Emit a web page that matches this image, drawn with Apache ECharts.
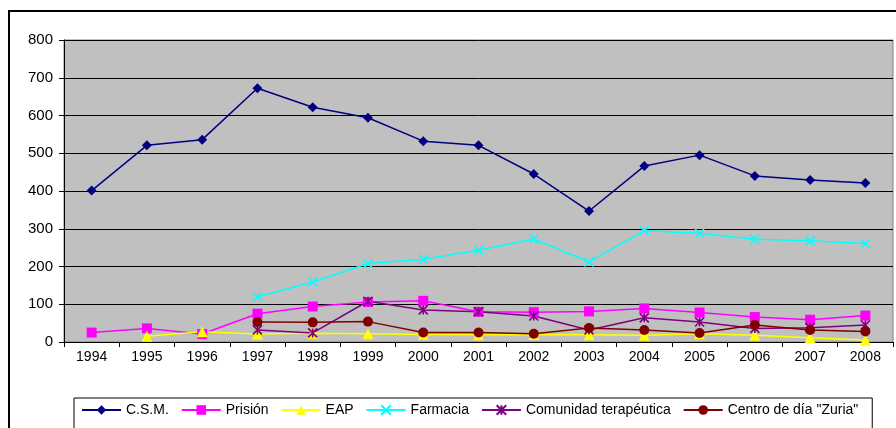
<!DOCTYPE html>
<html>
<head>
<meta charset="utf-8">
<script src="https://cdn.jsdelivr.net/npm/echarts@6/dist/echarts.min.js"></script>
<style>html,body{margin:0;padding:0;background:#fff;}#chart{width:896px;height:428px;}</style>
</head>
<body>
<div id="chart"></div>
<script>
const years = ['1994','1995','1996','1997','1998','1999','2000','2001','2002','2003','2004','2005','2006','2007','2008'];
const csm = [401, 521, 536, 672, 622, 594, 532, 521, 445, 347, 466, 495, 440, 429, 421];
const prision = [25, 36, 21, 75, 94, 106, 109, 80, 79, 81, 89, 78, 66, 59, 70];
const eap = [null, 15, 27, 21, 23, 22, 20, 19, 20, 19, 18, 22, 18, 11, 5];
const farmacia = [null, null, null, 120, 159, 208, 219, 243, 273, 212, 295, 288, 272, 268, 261];
const comunidad = [null, null, null, 32, 24, 108, 85, 80, 69, 32, 64, 53, 36, 38, 45];
const centro = [null, null, null, 53, 52, 54, 25, 25, 22, 37, 32, 24, 45, 32, 28];
const yTicks = [0, 100, 200, 300, 400, 500, 600, 700, 800];

const FONT = 'Liberation Sans, Arial, sans-serif';
const crossPath = 'path://M0,0L10,10M10,0L0,10';
const starPath = 'path://M0,0L10,10M10,0L0,10M5,0L5,10';

function mk(name, data, color, symbol, size, stroke) {
  const s = {
    name: name, type: 'line', data: data, connectNulls: false,
    symbol: symbol, symbolSize: size, showSymbol: true,
    lineStyle: { color: color, width: 1.5 },
    itemStyle: { color: color },
    emphasis: { disabled: true }
  };
  if (stroke) {
    s.itemStyle = { color: 'rgba(0,0,0,0)', borderColor: color, borderWidth: 1.6 };
  }
  return s;
}

const chart = echarts.init(document.getElementById('chart'), null, { renderer: 'canvas' });
chart.setOption({
  animation: false,
  backgroundColor: '#ffffff',
  textStyle: { fontFamily: FONT },
  graphic: [{
    type: 'rect', z: -10, silent: true,
    shape: { x: 9, y: 11, width: 900, height: 430 },
    style: { fill: 'none', stroke: '#000', lineWidth: 2 }
  }],
  grid: {
    left: 64, right: 3, top: 40, bottom: 86,
    show: true, backgroundColor: '#C0C0C0', borderColor: '#808080', borderWidth: 1
  },
  legend: {
    left: 74, top: 398, width: 800,
    padding: [5, 14, 30, 7],
    borderColor: '#000', borderWidth: 1,
    itemWidth: 39, itemHeight: 12, itemGap: 12,
    textStyle: { fontFamily: FONT, fontSize: 14, color: '#000' },
    data: ['C.S.M.', 'Prisión', 'EAP', 'Farmacia', 'Comunidad terapéutica', 'Centro de día "Zuria"']
  },
  xAxis: {
    type: 'category', data: years, boundaryGap: true,
    axisLine: { lineStyle: { color: '#000', width: 1 } },
    axisTick: { show: true, length: 5, inside: false, lineStyle: { color: '#000' } },
    axisLabel: { color: '#000', fontSize: 14, fontFamily: FONT, margin: 8 },
    splitLine: { show: false }
  },
  yAxis: {
    type: 'value', min: yTicks[0], max: yTicks[yTicks.length - 1], interval: 100,
    axisLine: { show: true, lineStyle: { color: '#000', width: 1 } },
    axisTick: { show: true, length: 5, inside: false, lineStyle: { color: '#000' } },
    axisLabel: { color: '#000', fontSize: 15, fontFamily: FONT, margin: 11 },
    splitLine: { show: true, lineStyle: { color: '#000', width: 1 } }
  },
  series: [
    mk('C.S.M.', csm, '#000080', 'diamond', 10),
    mk('Prisión', prision, '#FF00FF', 'rect', 10),
    mk('EAP', eap, '#FFFF00', 'triangle', 11),
    mk('Farmacia', farmacia, '#00FFFF', crossPath, 9, true),
    mk('Comunidad terapéutica', comunidad, '#800080', starPath, 9, true),
    mk('Centro de día "Zuria"', centro, '#800000', 'circle', 10)
  ]
});
</script>
</body>
</html>
